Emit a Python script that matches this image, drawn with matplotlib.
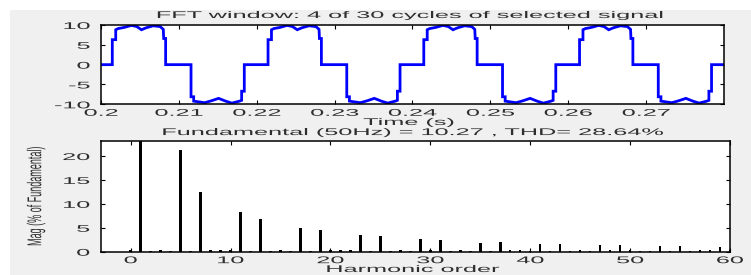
import numpy as np
import matplotlib
matplotlib.use('Agg')
import matplotlib.pyplot as plt
from matplotlib.patches import Rectangle
from matplotlib.patheffects import AbstractPathEffect
from matplotlib.transforms import Affine2D

# one cycle of the selected signal (time offset in s, value)
cycle_t = [0.0, 0.00145, 0.00145, 0.00189, 0.00189, 0.0022, 0.0030, 0.0039, 0.0046,
           0.0052, 0.0058, 0.0067, 0.0076, 0.0080, 0.00805, 0.00830, 0.00830,
           0.01156, 0.01156, 0.0119, 0.0119, 0.0133, 0.0142, 0.0151, 0.0160,
           0.0168, 0.0178, 0.01806, 0.01806, 0.0184, 0.0184, 0.0200]
cycle_v = [0.0, 0.0, 6.3, 6.3, 8.8, 9.1, 9.4, 9.9, 9.6,
           8.8, 9.3, 9.8, 9.6, 8.9, 6.6, 6.6, 0.0,
           0.0, -8.1, -8.1, -9.2, -9.6, -9.1, -8.5, -9.2,
           -9.7, -9.2, -9.0, -6.7, -6.7, 0.0, 0.0]
t_start = 0.2
period = 0.02
n_cycles = 4

# harmonic spectrum (% of fundamental), orders 0..60
harmonics = list(range(61))
magnitude = [0.45, 100.0, 0.25, 0.3, 0.25, 21.2, 0.2, 12.5, 0.3, 0.35,
             0.45, 8.3, 0.2, 6.8, 0.25, 0.3, 0.2, 5.0, 0.2, 4.6,
             0.35, 0.3, 0.3, 3.4, 0.2, 3.3, 0.25, 0.35, 0.2, 2.6,
             0.3, 2.4, 0.2, 0.3, 0.25, 1.9, 0.2, 2.0, 0.3, 0.35,
             0.25, 1.6, 0.2, 1.6, 0.25, 0.3, 0.2, 1.4, 0.3, 1.4,
             0.35, 0.25, 0.2, 1.2, 0.2, 1.2, 0.25, 0.3, 0.35, 1.05,
             0.3]

time_ticks = [0.2, 0.21, 0.22, 0.23, 0.24, 0.25, 0.26, 0.27]
time_labels = ['0.2', '0.21', '0.22', '0.23', '0.24', '0.25', '0.26', '0.27']
signal_ticks = [-10, -5, 0, 5, 10]
order_ticks = [0, 10, 20, 30, 40, 50, 60]
mag_ticks = [0, 5, 10, 15, 20]

title_top = 'FFT window: 4 of 30 cycles of selected signal'
title_bottom = 'Fundamental (50Hz) = 10.27 , THD= 28.64%'

TXT = '#2e2e2e'
FS = 7
WIDEN = 2.6


class Stretch(AbstractPathEffect):
    """Widen text along one direction, the screenshot is squashed."""

    def __init__(self, factor=WIDEN, anchor='center', along='x'):
        super().__init__()
        self.factor = factor
        self.anchor = anchor
        self.along = along

    def draw_path(self, renderer, gc, tpath, affine, rgbFace=None):
        ext = tpath.get_extents()
        if self.along == 'x':
            lo, hi = ext.x0, ext.x1
        else:
            lo, hi = ext.y0, ext.y1
        c = {'left': lo, 'center': (lo + hi) / 2, 'right': hi}[self.anchor]
        if self.along == 'x':
            t = Affine2D().translate(-c, 0).scale(self.factor, 1).translate(c, 0)
        else:
            t = Affine2D().translate(0, -c).scale(1, self.factor).translate(0, c)
        renderer.draw_path(gc, tpath, t + affine, rgbFace)


def style_axes(ax):
    ax.tick_params(direction='in', length=3, width=0.8, top=True, right=True,
                   labelsize=FS, labelcolor=TXT, colors='black')
    ax.tick_params(axis='x', pad=2.5)
    ax.tick_params(axis='y', pad=8)
    for s in ax.spines.values():
        s.set_linewidth(1.1)
        s.set_color('black')
    for lbl in ax.get_xticklabels():
        lbl.set_path_effects([Stretch(anchor='center')])
    for lbl in ax.get_yticklabels():
        lbl.set_path_effects([Stretch(anchor='right')])


plt.rcParams['font.family'] = ['Liberation Sans', 'DejaVu Sans']

fig = plt.figure(figsize=(7.51, 2.75), dpi=100, facecolor='white')
fig.patches.append(Rectangle((10 / 751, 0), 1, 265 / 275, transform=fig.transFigure,
                             facecolor='#f0f0f0', edgecolor='none', zorder=-10))

# top: time signal
ax1 = fig.add_axes([101 / 751, 1 - 104.3 / 275, 623 / 751, 79.3 / 275])
t = np.concatenate([t_start + k * period + np.array(cycle_t) for k in range(n_cycles)])
v = np.tile(cycle_v, n_cycles)
ax1.plot(t, v, color='#0000ff', linewidth=2.0, solid_joinstyle='miter')
ax1.set_xlim(0.2, 0.28)
ax1.set_ylim(-10, 10)
ax1.set_xticks(time_ticks, time_labels)
ax1.set_yticks(signal_ticks, [str(y) for y in signal_ticks])
style_axes(ax1)
ttl = ax1.text(0.496, 1.126, title_top, transform=ax1.transAxes, ha='center', va='center',
               fontsize=FS, color=TXT)
ttl.set_path_effects([Stretch()])
ax1.set_xlabel('Time (s)', fontsize=FS, color=TXT)
ax1.xaxis.set_label_coords(0.494, -0.223)
ax1.xaxis.label.set_va('center')
ax1.xaxis.label.set_path_effects([Stretch()])

# bottom: harmonic spectrum
ax2 = fig.add_axes([100.7 / 751, 1 - 251.7 / 275, 629.3 / 751, 111 / 275])
ax2.bar(harmonics, magnitude, width=0.25, color='black', linewidth=0)
ax2.set_xlim(-3, 60)
ax2.set_ylim(0, 23.2)
ax2.set_xticks(order_ticks, [str(x) for x in order_ticks])
ax2.set_yticks(mag_ticks, [str(y) for y in mag_ticks])
style_axes(ax2)
ttl2 = ax2.text(0.496, 1.078, title_bottom, transform=ax2.transAxes, ha='center', va='center',
                fontsize=FS, color=TXT)
ttl2.set_path_effects([Stretch()])
ax2.set_xlabel('Harmonic order', fontsize=FS, color=TXT)
ax2.xaxis.set_label_coords(0.496, -0.156)
ax2.xaxis.label.set_va('center')
ax2.xaxis.label.set_path_effects([Stretch()])
ax2.set_ylabel('Mag (% of Fundamental)', fontsize=FS - 0.5, color=TXT)
ax2.yaxis.set_label_coords(-0.103, 0.5)
ax2.yaxis.label.set_va('center')
ax2.yaxis.label.set_path_effects([Stretch(along='y', factor=2.2)])

fig.savefig('out.png', dpi=100, facecolor=fig.get_facecolor())
